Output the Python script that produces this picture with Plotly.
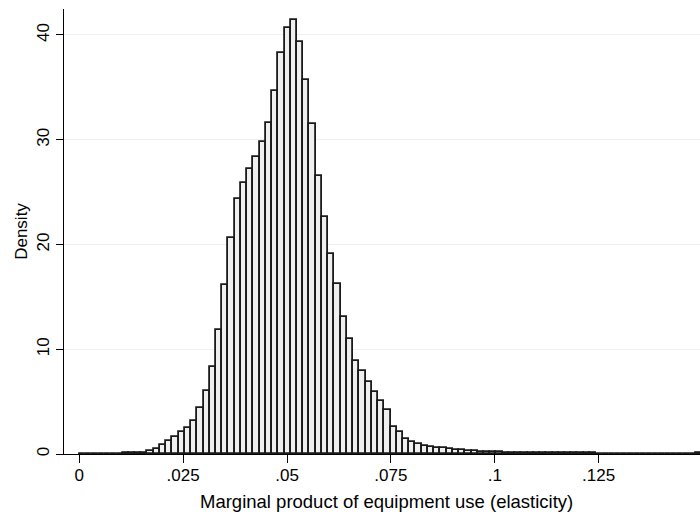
import plotly.graph_objects as go

# Histogram data (density per bin)
bin_start = -0.0001
bin_width = 0.0015
density = [
    0.02, 0.02, 0.03, 0.03, 0.03, 0.04, 0.04, 0.05, 0.06, 0.07,
    0.10, 0.25, 0.50, 0.82, 1.20, 1.66, 2.08, 2.50, 3.15, 4.36,
    5.98, 8.34, 11.8, 16.1, 20.6, 24.3, 25.9, 27.2, 28.4, 29.8,
    31.6, 34.7, 38.3, 40.65, 41.4, 39.3, 35.7, 31.5, 26.5, 22.6,
    19.1, 16.2, 13.1, 11.0, 8.9, 7.9, 6.85, 5.95, 5.1, 4.17,
    2.6, 2.07, 1.42, 1.16, 0.95, 0.76, 0.63, 0.60, 0.57, 0.50,
    0.38, 0.35, 0.29, 0.26, 0.22, 0.19, 0.16, 0.15, 0.13, 0.11,
    0.10, 0.09, 0.09, 0.08, 0.08, 0.07, 0.07, 0.06, 0.06, 0.06,
    0.05, 0.05, 0.05, 0.04, 0.04, 0.04, 0.04, 0.03, 0.03, 0.03,
    0.03, 0.03, 0.02, 0.02, 0.02, 0.02, 0.02, 0.02, 0.0, 0.06,
]
x_tickvals = [0, 0.025, 0.05, 0.075, 0.1, 0.125]
x_ticktext = ["0", ".025", ".05", ".075", ".1", ".125"]
y_tickvals = [0, 10, 20, 30, 40]
y_ticktext = ["0", "10", "20", "30", "40"]
x_title = "Marginal product of equipment use (elasticity)"
y_title = "Density"

centers = [bin_start + bin_width * (i + 0.5) for i in range(len(density))]

FONT = "Liberation Sans, Arial, sans-serif"

fig = go.Figure(
    go.Bar(
        x=centers,
        y=density,
        width=bin_width,
        marker=dict(color="#efefef", line=dict(color="#1a1a1a", width=1.8)),
        hoverinfo="x+y",
    )
)

fig.update_layout(
    width=700,
    height=514,
    margin=dict(l=64, r=0, t=9, b=60),
    paper_bgcolor="white",
    plot_bgcolor="white",
    bargap=0,
    showlegend=False,
    font=dict(family=FONT, size=17, color="black"),
    xaxis=dict(
        range=[-0.00368, 0.14939],
        tickvals=x_tickvals,
        ticktext=x_ticktext,
        ticks="outside",
        ticklen=8,
        tickwidth=1,
        tickcolor="black",
        showline=True,
        linecolor="black",
        linewidth=1,
        showgrid=False,
        zeroline=False,
        tickfont=dict(family=FONT, size=17, color="black"),
        ticklabelstandoff=-2,
    ),
    yaxis=dict(
        range=[0, 42.48],
        tickvals=y_tickvals,
        ticktext=y_ticktext,
        ticks="outside",
        ticklen=7,
        tickwidth=1,
        tickcolor="black",
        tickangle=-90,
        showline=True,
        linecolor="black",
        linewidth=1,
        showgrid=True,
        gridcolor="#eaf2f3",
        gridwidth=1,
        zeroline=False,
        tickfont=dict(family=FONT, size=17, color="black"),
        title=dict(
            text=y_title,
            font=dict(family=FONT, size=17, color="black"),
            standoff=2,
        ),
    ),
    annotations=[
        dict(
            text=x_title,
            xref="paper",
            yref="paper",
            x=0.507,
            y=0,
            xanchor="center",
            yanchor="middle",
            yshift=-47,
            showarrow=False,
            font=dict(family=FONT, size=18.5, color="black"),
        )
    ],
)

fig.write_html("out.html")
